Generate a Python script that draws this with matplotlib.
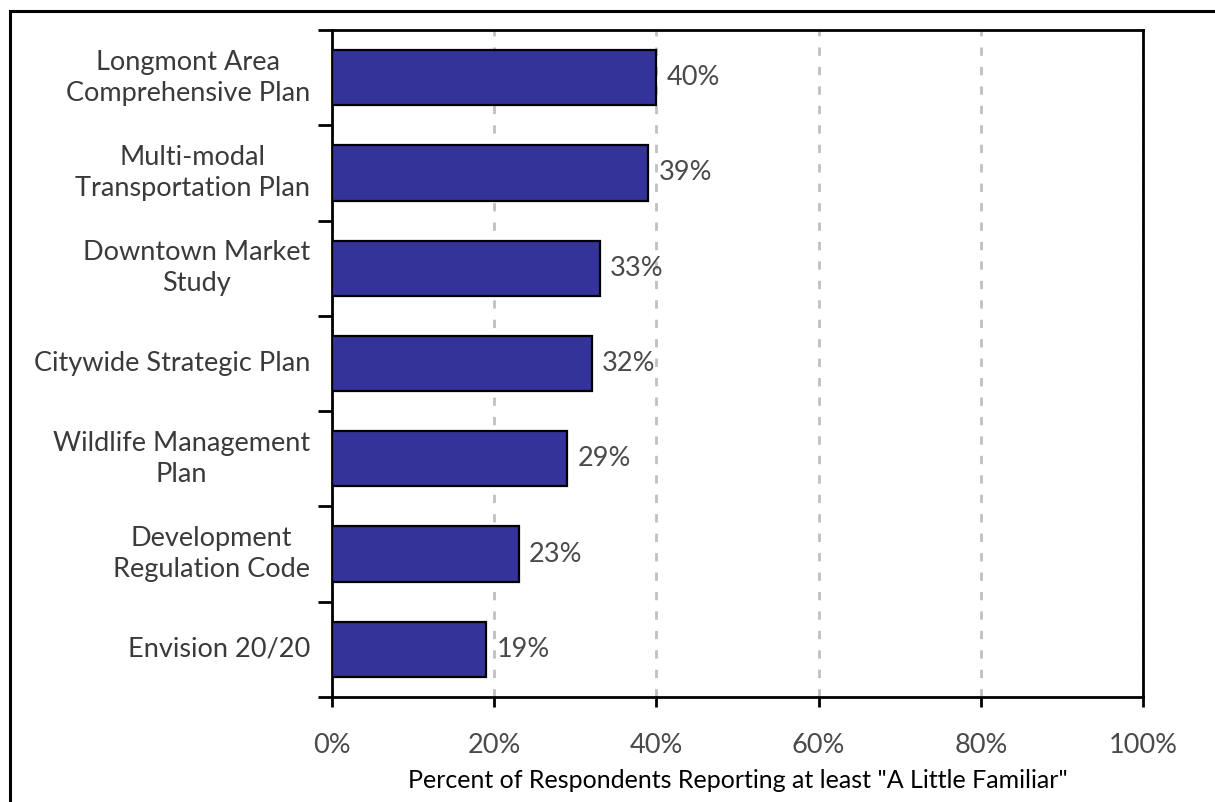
import matplotlib.pyplot as plt
from matplotlib.lines import Line2D

# survey results, top to bottom
plans = [
    "Longmont Area\nComprehensive Plan",
    "Multi-modal\nTransportation Plan",
    "Downtown Market\nStudy",
    "Citywide Strategic Plan",
    "Wildlife Management\nPlan",
    "Development\nRegulation Code",
    "Envision 20/20",
]
familiar_pct = [40, 39, 33, 32, 29, 23, 19]
xticks = [0, 20, 40, 60, 80, 100]
xlabel = 'Percent of Respondents Reporting at least "A Little Familiar"'

plt.rcParams["font.family"] = ["Lato", "DejaVu Sans"]

fig = plt.figure(figsize=(12.15, 8.02), dpi=100)
ax = fig.add_axes([0.2733, 0.1309, 0.6675, 0.8317])

n = len(plans)
ypos = list(range(n))[::-1]
ax.barh(ypos, familiar_pct, height=0.58, color="#333399",
        edgecolor="black", linewidth=1.6, zorder=3)

for y, v in zip(ypos, familiar_pct):
    ax.text(v + 1.3, y, f"{v}%", va="center", ha="left",
            fontsize=19.5, color="#4a4a4a", zorder=4)

ax.set_xlim(0, 100)
ax.set_ylim(-0.5, n - 0.5)

ax.set_xticks(xticks)
ax.set_xticklabels([f"{t}%" for t in xticks], fontsize=19.5, color="#4a4a4a")
ax.tick_params(axis="x", direction="out", length=7, width=2, pad=19)

# y ticks sit between the bars, labels centred on the bars
ax.set_yticks([i - 0.5 for i in range(n + 1)])
ax.set_yticklabels([])
ax.tick_params(axis="y", direction="out", length=10, width=2)
for y, name in zip(ypos, plans):
    ax.text(-0.027, y, name, transform=ax.get_yaxis_transform(),
            ha="right", va="center", multialignment="center",
            fontsize=19.5, color="#3a3a3a", linespacing=1.3)

ax.xaxis.grid(True, color="#c0c0c0", linestyle=(0, (3, 4)), linewidth=2)
ax.set_axisbelow(True)
for s in ax.spines.values():
    s.set_linewidth(2)

ax.set_xlabel(xlabel, fontsize=18, color="black", labelpad=8)

# outer frame (runs off the right and bottom edges)
fig.add_artist(Line2D([0.0082, 1.0], [0.986, 0.986], color="black", lw=2.2))
fig.add_artist(Line2D([0.0082, 0.0082], [0.0, 0.986], color="black", lw=2.2))

fig.savefig("out.png", dpi=100)
